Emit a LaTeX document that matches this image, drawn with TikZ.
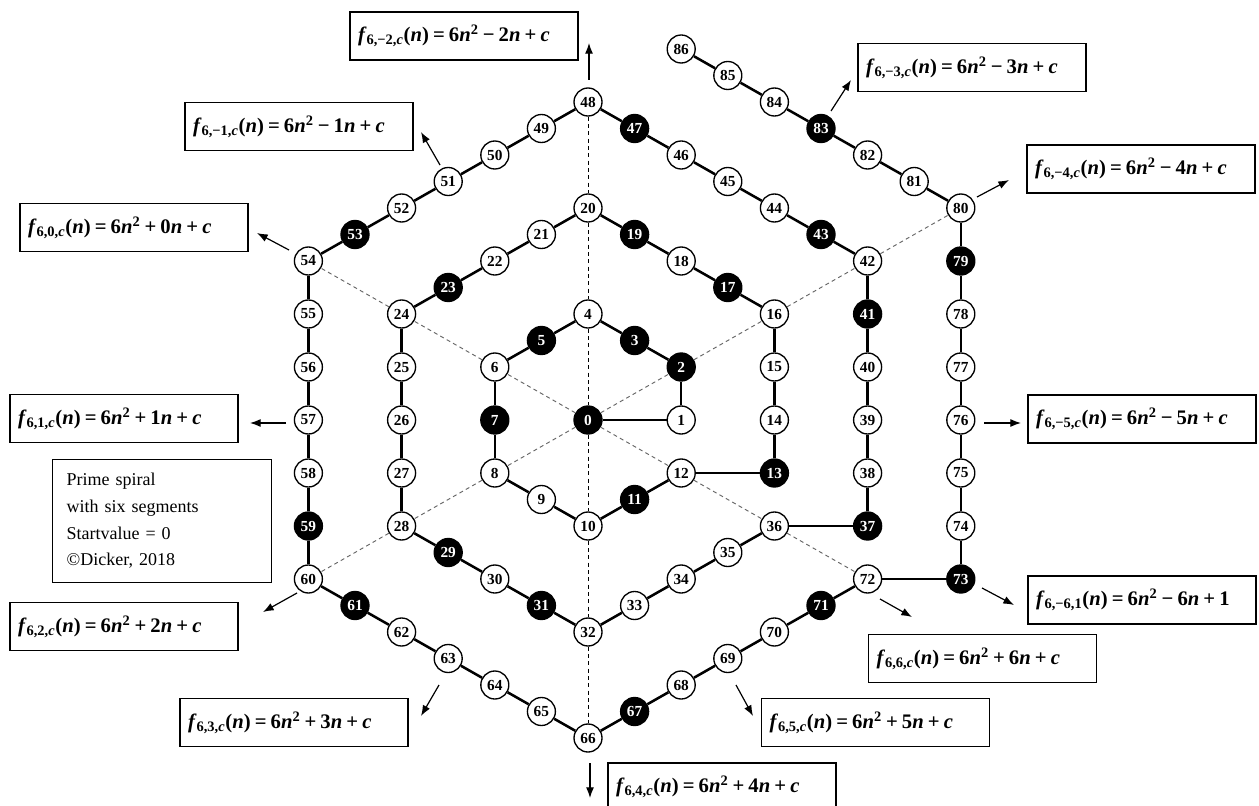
\documentclass[tikz,border=0pt]{standalone}
\usepackage{fontspec}
\setmainfont{Liberation Serif}
\usetikzlibrary{arrows.meta}
\newcommand{\fb}[4]{\textbf{\spaceskip=0.2em\relax\textit{f}\textsubscript{6,#1}(\textit{n}) = 6\textit{n}\textsuperscript{2} #2 #3\textit{n} + #4}}
\tikzset{
  nd/.style={circle,draw,line width=1pt,minimum size=21pt,inner sep=0pt,fill=white,
    font=\fontsize{11.5}{11.5}\selectfont\bfseries},
  pn/.style={nd,fill=black,text=white},
  spiral/.style={line width=1.9pt},
  ray/.style={line width=0.7pt,dash pattern=on 3pt off 2.5pt},
  rayg/.style={ray,draw=black!60},
  arr/.style={line width=0.9pt,-{Latex[length=8pt,width=6pt]}},
  fbox/.style={draw,line width=0.9pt,minimum width=171pt,minimum height=36pt,
    inner xsep=6pt,text width=159pt,align=left,font=\fontsize{15.5}{18}\selectfont},
}
\begin{document}
\begin{tikzpicture}[x=0.75pt,y=-0.75pt]
\clip (0,0) rectangle (1259,806);
\fill[white] (0,0) rectangle (1259,806);
\def\hx{46.6}\def\hy{26.5}
% white nodes
\foreach \n/\c/\r in {1/2/0,4/0/4,6/-2/2,8/-2/-2,9/-1/-3,10/0/-4,12/2/-2,
  14/4/0,15/4/2,16/4/4,18/2/6,20/0/8,21/-1/7,22/-2/6,24/-4/4,25/-4/2,26/-4/0,27/-4/-2,28/-4/-4,
  30/-2/-6,32/0/-8,33/1/-7,34/2/-6,35/3/-5,36/4/-4,38/6/-2,39/6/0,40/6/2,42/6/6,
  44/4/8,45/3/9,46/2/10,48/0/12,49/-1/11,50/-2/10,51/-3/9,52/-4/8,54/-6/6,55/-6/4,56/-6/2,
  57/-6/0,58/-6/-2,60/-6/-6,62/-4/-8,63/-3/-9,64/-2/-10,65/-1/-11,66/0/-12,68/2/-10,69/3/-9,
  70/4/-8,72/6/-6,74/8/-4,75/8/-2,76/8/0,77/8/2,78/8/4,80/8/8,81/7/9,82/6/10,84/4/12,85/3/13,86/2/14}
  \node[nd] (n\n) at ({588+\c*\hx},{420-\r*\hy}) {\n};
% black nodes
\foreach \n/\c/\r in {0/0/0,2/2/2,3/1/3,5/-1/3,7/-2/0,11/1/-3,13/4/-2,17/3/5,19/1/7,23/-3/5,
  29/-3/-5,31/-1/-7,37/6/-4,41/6/4,43/5/7,47/1/11,53/-5/7,59/-6/-4,61/-5/-7,67/1/-11,
  71/5/-7,73/8/-6,79/8/6,83/5/11}
  \node[pn] (n\n) at ({588+\c*\hx},{420-\r*\hy}) {\n};
% spiral
\foreach \i [evaluate=\i as \j using int(\i+1)] in {0,...,85}
  \draw[spiral] (n\i) -- (n\j);
% rays
\draw[ray] (n48) -- (n20) -- (n4) -- (n0) -- (n10) -- (n32) -- (n66);
\draw[rayg] (n0) -- (n2) -- (n16) -- (n42) -- (n80);
\draw[rayg] (n0) -- (n6) -- (n24) -- (n54);
\draw[rayg] (n0) -- (n8) -- (n28) -- (n60);
\draw[rayg] (n0) -- (n12) -- (n36) -- (n72);
% formula boxes
\node[fbox] (bm2) at (464,36) {\fb{−2,\textit{c}}{−}{2}{\textit{c}}};
\node[fbox] (bm1) at (299,126.5) {\fb{−1,\textit{c}}{−}{1}{\textit{c}}};
\node[fbox] (b0) at (134,227.5) {\fb{0,\textit{c}}{+}{0}{\textit{c}}};
\node[fbox] (b1) at (124,418.5) {\fb{1,\textit{c}}{+}{1}{\textit{c}}};
\node[fbox] (b2) at (124,626.5) {\fb{2,\textit{c}}{+}{2}{\textit{c}}};
\node[fbox] (b3) at (294,722.5) {\fb{3,\textit{c}}{+}{3}{\textit{c}}};
\node[fbox] (b4) at (722,787) {\fb{4,\textit{c}}{+}{4}{\textit{c}}};
\node[fbox] (b5) at (875.5,722.5) {\fb{5,\textit{c}}{+}{5}{\textit{c}}};
\node[fbox] (b6) at (982.5,658.5) {\fb{6,\textit{c}}{+}{6}{\textit{c}}};
\node[fbox] (bm61) at (1142,600) {\fb{−6,1}{−}{6}{1}};
\node[fbox] (bm5) at (1142,419) {\fb{−5,\textit{c}}{−}{5}{\textit{c}}};
\node[fbox] (bm4) at (1141,169) {\fb{−4,\textit{c}}{−}{4}{\textit{c}}};
\node[fbox] (bm3) at (972,67.5) {\fb{−3,\textit{c}}{−}{3}{\textit{c}}};
% info box
\node[draw,line width=0.9pt,anchor=north west,minimum width=164pt,minimum height=92pt,
  inner xsep=10.5pt,text width=143pt,align=left,font=\fontsize{13.5}{20}\selectfont]
  (info) at (52,459) {Prime spiral\\with six segments\\Startvalue = 0\\©Dicker, 2018};
% arrows
\coordinate (tm2) at (589,80);  \coordinate (hm2) at (589,43);
\coordinate (tm1) at (440,165); \coordinate (hm1) at (421,132);
\coordinate (t0) at (289,250);  \coordinate (h0) at (257,233);
\coordinate (t1) at (286,423);  \coordinate (h1) at (250,423);
\coordinate (t2) at (297,593);  \coordinate (h2) at (263,612);
\coordinate (t3) at (439,685);  \coordinate (h3) at (421,716);
\coordinate (t4) at (590,763);  \coordinate (h4) at (590,798);
\coordinate (t5) at (736,685);  \coordinate (h5) at (753,716);
\coordinate (t6) at (880,599);  \coordinate (h6) at (912,617);
\coordinate (tm61) at (982,588); \coordinate (hm61) at (1014,605);
\coordinate (tm5) at (984,423); \coordinate (hm5) at (1021,423);
\coordinate (tm4) at (977,197); \coordinate (hm4) at (1009,180);
\coordinate (tm3) at (831,111); \coordinate (hm3) at (851,80);
\foreach \a in {m2,m1,0,1,2,3,4,5,6,m61,m5,m4,m3}
  \draw[arr] (t\a) -- (h\a);
\end{tikzpicture}
\end{document}
